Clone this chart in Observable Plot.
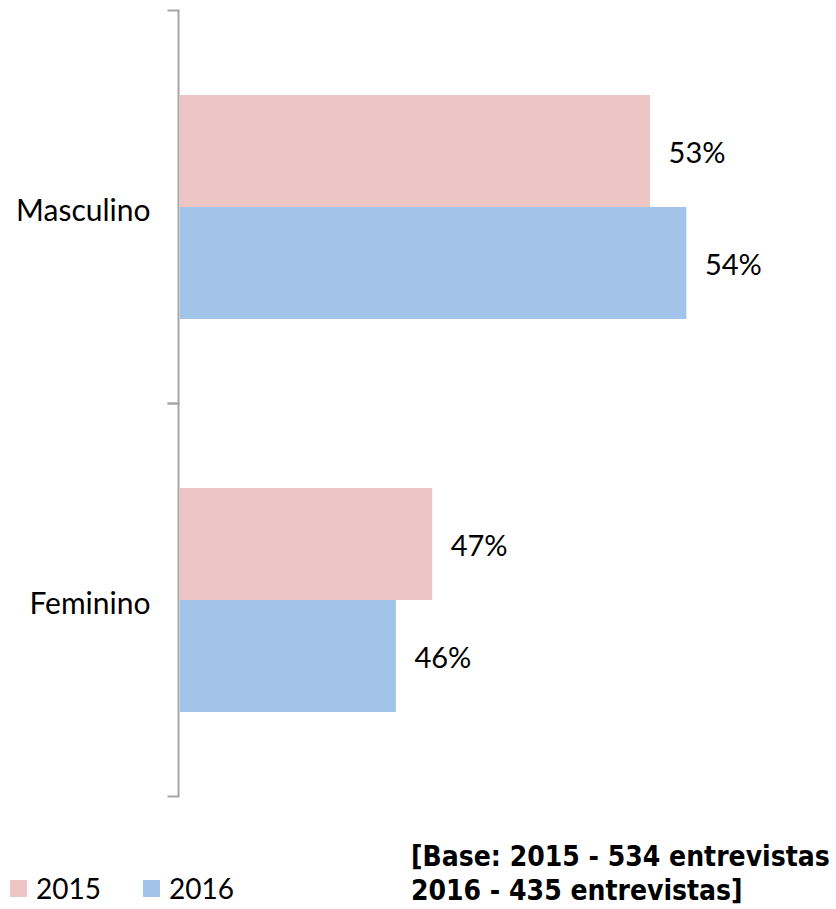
<!DOCTYPE html>
<html>
<head>
<meta charset="utf-8">
<script src="https://cdn.jsdelivr.net/npm/d3@7"></script>
<script src="https://cdn.jsdelivr.net/npm/@observablehq/plot@0.6"></script>
<style>
  html, body { margin: 0; padding: 0; background: #fff; }
  #wrap { position: relative; width: 836px; height: 909px; font-family: Lato, "Open Sans", sans-serif; color: #000; }
  #chart { position: absolute; left: 0; top: 0; }
  .leg { position: absolute; display: flex; align-items: center; font-size: 28px; }
  .sw { width: 17px; height: 17px; margin-right: 9px; }
  #caption { position: absolute; left: 411px; top: 840px; font-family: "DejaVu Sans Condensed", "DejaVu Sans", sans-serif; font-weight: bold; font-size: 28px; line-height: 34px; white-space: nowrap; }
</style>
</head>
<body>
<div id="wrap">
  <div id="chart"></div>
  <div id="legend"></div>
  <div id="caption">[Base: 2015 - 534 entrevistas<br>2016 - 435 entrevistas]</div>
</div>
<script>
const categories = ["Masculino", "Feminino"];
const years = ["2015", "2016"];
const colors = ["#ECC5C4", "#A3C4EA"];
const values2015 = [53, 47];
const values2016 = [54, 46];
const xDomain = [40, 56];

const data = [];
categories.forEach((c, i) => {
  data.push({cat: c, year: years[0], value: values2015[i]});
  data.push({cat: c, year: years[1], value: values2016[i]});
});

const axisGray = "#A6A6A6";

const chart = Plot.plot({
  width: 836,
  height: 806,
  marginLeft: 178,
  marginRight: 77,
  marginTop: 9,
  marginBottom: 10,
  style: {fontFamily: "Lato, 'Open Sans', sans-serif", fontSize: "30px", color: "#000", background: "#fff"},
  x: {domain: xDomain, axis: null},
  fy: {domain: categories, padding: 0, axis: "left", label: null, tickSize: 0, tickPadding: 28},
  y: {domain: years, axis: null, paddingInner: 0, paddingOuter: 0.747},
  color: {domain: years, range: colors},
  marks: [
    Plot.barX(data, {fy: "cat", y: "year", x1: xDomain[0], x2: "value", fill: "year", insetLeft: 2, insetTop: 0, insetBottom: 0}),
    Plot.text(data, {fy: "cat", y: "year", x: "value", text: d => d.value + "%", textAnchor: "start", dx: 18, dy: 2, fontSize: 29, fill: "#000"}),
    Plot.ruleX([xDomain[0]], {stroke: axisGray, strokeWidth: 2}),
    Plot.frame({anchor: "top", stroke: axisGray, strokeWidth: 2, insetLeft: -10, insetRight: 581}),
    Plot.frame({anchor: "bottom", stroke: axisGray, strokeWidth: 2, insetLeft: -10, insetRight: 581})
  ]
});
document.getElementById("chart").appendChild(chart);

// fy tick labels position tweak, as in reference
d3.select(chart).selectAll("[aria-label='fy-axis tick label'] text").attr("dy", "0.14em");

// Legend
const legend = document.getElementById("legend");
const legendLeft = [10, 143];
years.forEach((y, i) => {
  const item = document.createElement("div");
  item.className = "leg";
  item.style.left = legendLeft[i] + "px";
  item.style.top = "871px";
  const sw = document.createElement("div");
  sw.className = "sw";
  sw.style.background = colors[i];
  const t = document.createElement("span");
  t.textContent = y;
  item.appendChild(sw);
  item.appendChild(t);
  legend.appendChild(item);
});
</script>
</body>
</html>
